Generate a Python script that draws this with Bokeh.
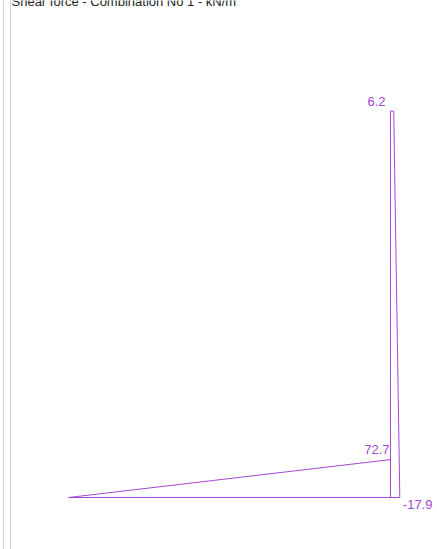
from bokeh.plotting import figure
from bokeh.models import Range1d, Label, Span
from bokeh.core.properties import value
from bokeh.embed import file_html
from bokeh.resources import INLINE

# Frame: cantilever beam on a column, shear force diagram
title_text = "Shear force - Combination No 1 - kN/m"
beam_length = 5.0        # m, beam runs from x=-5 to the column at x=0
column_height = 6.0      # m
beam_shear = [0.0, 72.7]     # kN at free end, at column
column_shear = [-17.9, 6.2]  # kN at base, at top
diagram_scale = 0.0081       # m of drawing per kN

PURPLE = "#a448d4"
FONT = "Liberation Sans"

p = figure(width=437, height=549, output_backend="svg", toolbar_location=None,
           x_range=Range1d(-6.056, 0.730), y_range=Range1d(-0.807, 7.717),
           x_axis_type=None, y_axis_type=None, min_border=0,
           outline_line_color=None, background_fill_color="white",
           border_fill_color="white")
p.grid.visible = False

# window frame lines on the left
p.add_layout(Span(location=3, location_units="screen", dimension="height",
                  line_color="#d4d4d4", line_width=1))
p.add_layout(Span(location=10, location_units="screen", dimension="height",
                  line_color="#d4d4d4", line_width=1))

# members
p.line(x=[-beam_length, 0.0], y=[0.0, 0.0], line_color=PURPLE, line_width=1)
p.line(x=[0.0, 0.0], y=[0.0, column_height], line_color=PURPLE, line_width=1)

# beam shear diagram (drawn above the beam)
bx = [-beam_length, 0.0, 0.0]
by = [beam_shear[0] * diagram_scale, beam_shear[1] * diagram_scale, 0.0]
p.line(x=bx, y=by, line_color=PURPLE, line_width=1)

# column shear diagram (drawn to the right of the column)
cx = [0.0, abs(column_shear[0]) * diagram_scale, abs(column_shear[1]) * diagram_scale, 0.0]
cy = [0.0, 0.0, column_height, column_height]
p.line(x=cx, y=cy, line_color=PURPLE, line_width=1)

# value labels
lab = dict(text_font=value(FONT), text_font_size="13px", text_color=PURPLE)
p.text(x=[0.0], y=[beam_shear[1] * diagram_scale], text=[f"{beam_shear[1]:.1f}"],
       text_align="right", text_baseline="alphabetic", x_offset=-1, y_offset=-10, **lab)
p.text(x=[abs(column_shear[0]) * diagram_scale], y=[0.0], text=[f"{column_shear[0]:.1f}"],
       text_align="left", text_baseline="top", x_offset=3, y_offset=2, **lab)
p.text(x=[0.0], y=[column_height], text=[f"{column_shear[1]:.1f}"],
       text_align="right", text_baseline="alphabetic", x_offset=-5, y_offset=-10, **lab)

# title, partly above the top edge
p.add_layout(Label(x=11, y=548, x_units="screen", y_units="screen", text=title_text,
                   text_font=FONT, text_font_size="13px", text_color="#222222",
                   text_baseline="alphabetic"))

open("out.html", "w").write(file_html(p, INLINE))
